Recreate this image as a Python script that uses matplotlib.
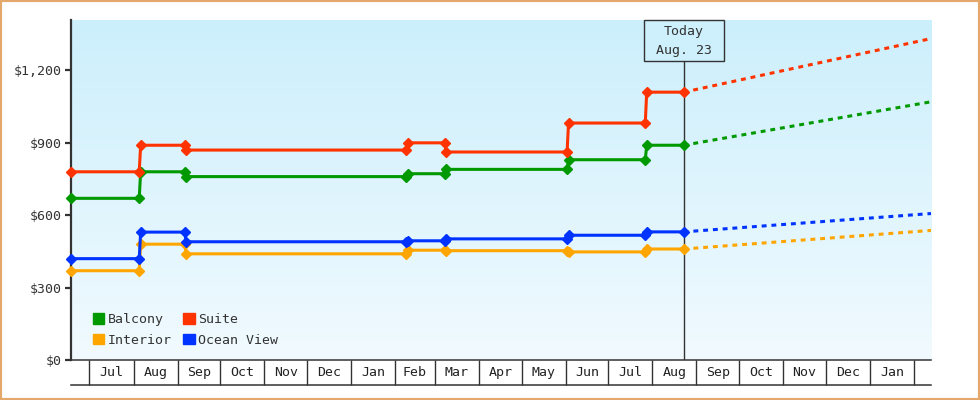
import matplotlib
matplotlib.use("Agg")
import matplotlib.pyplot as plt
import matplotlib.dates as mdates
from matplotlib.patches import Patch, Rectangle
from matplotlib.lines import Line2D
import numpy as np
import pandas as pd

# price observations - a change shows as last day at old price + first day at new price
obs_dates = ["2013-06-18", "2013-08-05", "2013-08-06", "2013-09-06", "2013-09-07",
             "2014-02-09", "2014-02-10", "2014-03-08", "2014-03-09",
             "2014-06-02", "2014-06-03", "2014-07-27", "2014-07-28", "2014-08-23"]
balcony = [670, 670, 780, 780, 760, 760, 772, 772, 790, 790, 830, 830, 890, 890]
suite = [780, 780, 890, 890, 870, 870, 900, 900, 862, 862, 982, 982, 1110, 1110]
interior = [370, 370, 480, 480, 440, 440, 455, 455, 453, 453, 448, 448, 460, 460]
ocean_view = [420, 420, 530, 530, 490, 490, 494, 494, 502, 502, 517, 517, 531, 531]

# projected prices at the end of the chart
forecast_date = "2015-02-13"
balcony_fc = 1070
suite_fc = 1332
interior_fc = 537
ocean_view_fc = 607

today = "2014-08-23"
today_label = "Today\nAug. 23"
y_ticks = [0, 300, 600, 900, 1200]

series = [("Balcony", balcony, balcony_fc, "#009900"),
          ("Suite", suite, suite_fc, "#ff3300"),
          ("Interior", interior, interior_fc, "#ffa500"),
          ("Ocean View", ocean_view, ocean_view_fc, "#0033ff")]

plt.rcParams['font.family'] = ['DejaVu Sans Mono', 'DejaVu Sans']
FS = 9.5

fig = plt.figure(figsize=(9.8, 4), dpi=100)
ax = fig.add_axes([71/980, 40/400, 860/980, 340/400])

# light blue gradient background
grad = np.linspace(0, 1, 256).reshape(-1, 1)
top = np.array([204, 239, 252]) / 255
bot = np.array([241, 250, 255]) / 255
img = top + (bot - top) * grad[:, :, None]
ax.imshow(img, extent=[0, 1, 0, 1], transform=ax.transAxes, aspect='auto', zorder=0)

dates = pd.to_datetime(obs_dates)
for name, vals, fc, col in series:
    ax.plot(dates, vals, color=col, lw=2.2, marker='D', ms=5.5, mec=col, mfc=col,
            clip_on=False, zorder=3)
    ax.plot(pd.to_datetime([today, forecast_date]), [vals[-1], fc], color=col, lw=2.2,
            linestyle=(0, (1.6, 1.6)), dash_capstyle='butt', zorder=2)

ax.set_xlim(dates[0], pd.Timestamp(forecast_date))
ax.set_ylim(0, 1409)

for s in ['top', 'right']:
    ax.spines[s].set_visible(False)
ax.spines['left'].set_color('#333333')
ax.spines['left'].set_linewidth(1.6)
ax.spines['bottom'].set_color('#333333')
ax.spines['bottom'].set_linewidth(1.1)

ax.set_yticks(y_ticks)
ax.set_yticklabels(['${:,}'.format(v) for v in y_ticks], fontsize=FS, color='#333333')
ax.tick_params(axis='y', length=4, width=1.6, color='#333333', pad=3)

# month cells along the bottom
month_starts = pd.date_range("2013-07-01", "2015-02-01", freq="MS")
mids = month_starts[:-1] + (month_starts[1:] - month_starts[:-1]) / 2
ax.set_xticks(month_starts)
ax.set_xticklabels([''] * len(month_starts))
ax.set_xticks(mids, minor=True)
ax.set_xticklabels([d.strftime('%b') for d in mids], minor=True, fontsize=FS, color='#222222')
ax.tick_params(axis='x', which='major', length=18, width=1, color='#333333', direction='out')
ax.tick_params(axis='x', which='minor', length=0, pad=4)
ax.add_line(Line2D([0, 1], [-25/340, -25/340], transform=ax.transAxes, clip_on=False,
                   color='#333333', lw=1.1))

# today marker
ax.axvline(pd.Timestamp(today), ymax=1 - 40.7/340, color='#333333', lw=1, zorder=1)
fig.canvas.draw()
tx = ax.transData.transform((mdates.date2num(pd.Timestamp(today)), 0))[0]
ax_top = ax.transAxes.transform((0, 1))[1]
fig.patches.append(Rectangle(((tx - 40) / 980, (ax_top - 40.7) / 400), 80 / 980, 40.7 / 400,
                             transform=fig.transFigure, fc='#cdf0fc', ec='#333333', lw=1))
fig.text(tx / 980, (ax_top - 20.8) / 400, today_label, ha='center', va='center',
         fontsize=FS, color='#333333', linespacing=1.55)

handles = [Patch(color=series[i][3], label=series[i][0]) for i in (0, 2, 1, 3)]
leg = ax.legend(handles=handles, loc='lower left', bbox_to_anchor=(22/860, 13/340), ncol=2,
                frameon=False, fontsize=FS, handlelength=0.85, handleheight=0.8,
                handletextpad=0.25, columnspacing=0.9, labelspacing=0.6, borderpad=0,
                borderaxespad=0)
for t in leg.get_texts():
    t.set_color('#333333')

fig.patches.append(Rectangle((0, 0), 1, 1, transform=fig.transFigure, fill=False,
                             ec='#e4a86c', lw=3))

fig.savefig("out.png", dpi=100)
